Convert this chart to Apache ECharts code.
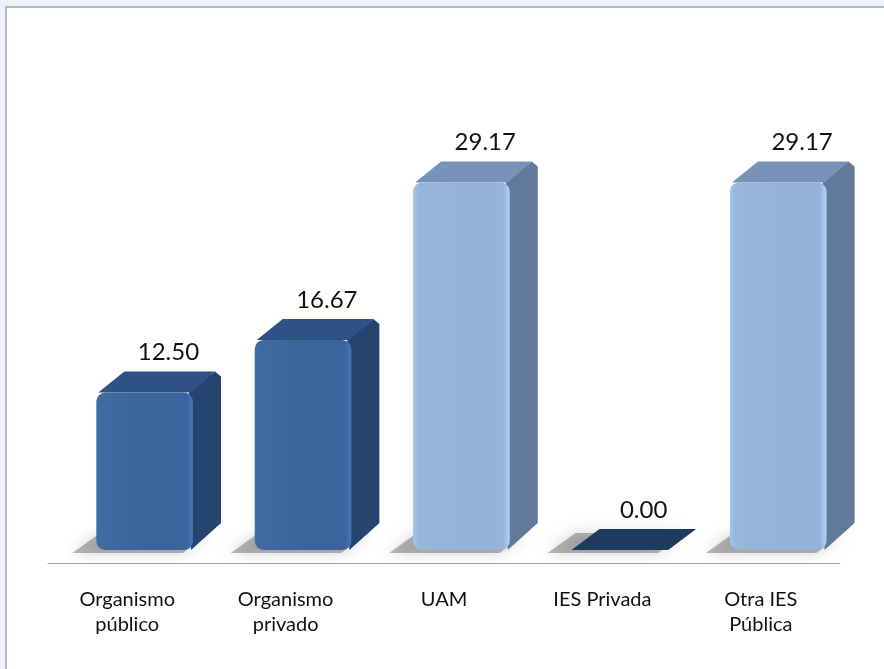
<!DOCTYPE html>
<html>
<head>
<meta charset="utf-8">
<script src="https://cdn.jsdelivr.net/npm/echarts@6/dist/echarts.min.js"></script>
<style>
  html, body { margin: 0; padding: 0; background: #eef2f7; }
  #main { width: 884px; height: 669px; }
</style>
</head>
<body>
<div id="main"></div>
<script>
// datos
var categorias = ['Organismo\npúblico', 'Organismo\nprivado', 'UAM', 'IES Privada', 'Otra IES\nPública'];
var valores = [12.50, 16.67, 29.17, 0.00, 29.17];

// colores de cada barra: frente, lado, tapa
var estilos = [
  { front: '#3a649b', side: '#254470', top: '#2d5283' },
  { front: '#3a649b', side: '#254470', top: '#2d5283' },
  { front: '#95b3d8', side: '#627a99', top: '#7893b8' },
  { front: '#1f3a5f', side: '#1f3a5f', top: '#1f3a5f' },
  { front: '#95b3d8', side: '#627a99', top: '#7893b8' }
];

var myChart = echarts.init(document.getElementById('main'));

function renderBar(params, api) {
  var i = api.value(0);
  var v = api.value(1);
  var band = api.size([1, 0])[0];
  var base = api.coord([i, 0]);
  var tip = api.coord([i, v]);
  var lift = 13;            // profundidad del piso 3D
  var w = band * 0.61;
  var dx = band * 0.177;
  var dy = 21;
  var x0 = base[0] + band * 0.11 - w / 2;
  var x1 = x0 + w;
  var yb = base[1] - lift;
  var yt = tip[1] - lift;
  var h = yb - yt;
  var st = estilos[i];
  var children = [];

  // sombra
  children.push({
    type: 'polygon',
    shape: { points: [[x0 - 24, yb + 3], [x1 - 10, yb + 3], [x1 + dx - 12, yb - dy + 4], [x0 + dx - 24, yb - dy + 4]] },
    style: { fill: 'rgba(80,80,80,0.4)', shadowBlur: 14, shadowColor: 'rgba(0,0,0,0.45)' },
    silent: true
  });

  if (h > 0) {
    // lado derecho
    children.push({
      type: 'polygon',
      shape: { points: [[x1 - 4, yt], [x1 + dx - 6, yt - dy], [x1 + dx, yt - dy + 5], [x1 + dx, yb - dy - 6], [x1 - 2, yb]] },
      style: { fill: st.side }
    });
    // tapa
    children.push({
      type: 'polygon',
      shape: { points: [[x0 + 2, yt], [x0 + dx, yt - dy], [x1 + dx - 6, yt - dy], [x1 - 2, yt]] },
      style: { fill: st.top }
    });
    // frente
    children.push({
      type: 'rect',
      shape: { x: x0, y: yt, width: w, height: h, r: 9 },
      style: {
        fill: new echarts.graphic.LinearGradient(0, 0, 1, 0, [
          { offset: 0, color: echarts.color.lift(st.front, -0.1) },
          { offset: 0.06, color: echarts.color.lift(st.front, 0.04) },
          { offset: 0.5, color: st.front },
          { offset: 0.93, color: st.front },
          { offset: 1, color: echarts.color.lift(st.front, -0.18) }
        ])
      }
    });
  } else {
    children.push({
      type: 'polygon',
      shape: { points: [[x0, yb], [x0 + dx, yb - dy], [x1 + dx, yb - dy], [x1, yb]] },
      style: { fill: st.top }
    });
  }

  children.push({
    type: 'text',
    style: {
      text: v.toFixed(2),
      x: x0 + w / 2 + dx * 0.85,
      y: yt - dy - 19,
      align: 'center',
      verticalAlign: 'middle',
      font: '24px Lato',
      fill: '#111'
    }
  });

  return { type: 'group', children: children };
}

var option = {
  backgroundColor: '#eef2f7',
  animation: false,
  graphic: [{
    type: 'rect',
    z: -10,
    silent: true,
    shape: { x: 6, y: 7, width: 900, height: 700 },
    style: { fill: '#ffffff', stroke: '#b9b5d1', lineWidth: 2 }
  }],
  grid: { left: 48, right: 44, top: 122, bottom: 106 },
  xAxis: {
    type: 'category',
    data: categorias,
    axisLine: { lineStyle: { color: '#a6a6a6', width: 1 } },
    axisTick: { length: 7, lineStyle: { color: '#a6a6a6' } },
    axisLabel: {
      color: '#111',
      fontFamily: 'Lato',
      fontSize: 20,
      lineHeight: 25,
      margin: 24,
      interval: 0
    }
  },
  yAxis: {
    type: 'value',
    min: 0,
    max: 35,
    show: false,
    splitLine: { show: false }
  },
  series: [{
    type: 'custom',
    renderItem: renderBar,
    encode: { x: 0, y: 1 },
    data: valores.map(function (v, i) { return [i, v]; })
  }]
};

myChart.setOption(option);
</script>
</body>
</html>
